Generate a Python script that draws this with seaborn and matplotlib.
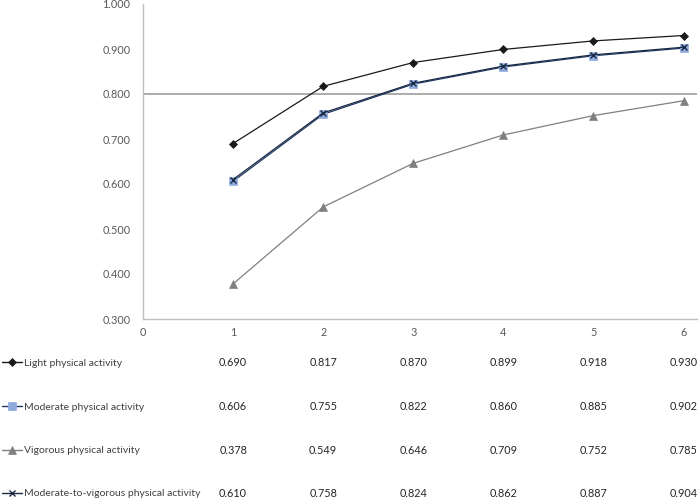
import matplotlib
matplotlib.use("Agg")
import matplotlib.pyplot as plt
import numpy as np
import pandas as pd
import seaborn as sns
from matplotlib.lines import Line2D

# data
x_vals = [1, 2, 3, 4, 5, 6]
series_names = ["Light physical activity", "Moderate physical activity",
                "Vigorous physical activity", "Moderate-to-vigorous physical activity"]
light = [0.690, 0.817, 0.870, 0.899, 0.918, 0.930]
moderate = [0.606, 0.755, 0.822, 0.860, 0.885, 0.902]
vigorous = [0.378, 0.549, 0.646, 0.709, 0.752, 0.785]
mvpa = [0.610, 0.758, 0.824, 0.862, 0.887, 0.904]
threshold = 0.800
y_ticks = [0.3, 0.4, 0.5, 0.6, 0.7, 0.8, 0.9, 1.0]
x_ticks = [0, 1, 2, 3, 4, 5, 6]

sns.set_style("white")
plt.rcParams["font.family"] = ["Lato", "DejaVu Sans"]

# styles per series: line colour, marker, marker face, marker edge, size
styles = {
    "Light physical activity": dict(color="#1a1a1a", marker="D", mfc="#1a1a1a", mec="#1a1a1a", ms=4.5, mew=0.5),
    "Moderate physical activity": dict(color="#1f3864", marker="s", mfc="#8faadc", mec="#8faadc", ms=6, mew=0.5),
    "Vigorous physical activity": dict(color="#808080", marker="^", mfc="#808080", mec="#808080", ms=6, mew=0.5),
    "Moderate-to-vigorous physical activity": dict(color="#1a2a45", marker="x", mfc="#1a2a45", mec="#1a2a45", ms=5, mew=1.0),
}
values = dict(zip(series_names, [light, moderate, vigorous, mvpa]))

fig = plt.figure(figsize=(6.99, 5.0), dpi=100)
ax = fig.add_axes([0.2046, 0.362, 0.7926, 0.630])

ax.axhline(threshold, color="#a6a6a6", lw=1.3, zorder=1)

for name in series_names:
    st = styles[name]
    df = pd.DataFrame({"x": x_vals, "y": values[name]})
    sns.lineplot(data=df, x="x", y="y", ax=ax, color=st["color"], lw=0.9,
                 marker=st["marker"], markersize=st["ms"], markerfacecolor=st["mfc"],
                 markeredgecolor=st["mec"], markeredgewidth=st["mew"], zorder=3)

ax.set_xlim(0, 6.15)
ax.set_ylim(0.3, 1.0)
ax.set_xticks(x_ticks)
ax.set_yticks(y_ticks)
ax.set_yticklabels([f"{v:.3f}" for v in y_ticks])
ax.set_xlabel("")
ax.set_ylabel("")
ax.tick_params(axis="both", length=0, labelsize=7.8, labelcolor="#595959")
ax.tick_params(axis="y", pad=9)
ax.tick_params(axis="x", pad=6)
for s in ["top", "right"]:
    ax.spines[s].set_visible(False)
for s in ["left", "bottom"]:
    ax.spines[s].set_color("#bfbfbf")
    ax.spines[s].set_linewidth(1.0)

# data table under the chart
row_y = [0.274, 0.186, 0.099, 0.013]
trans = matplotlib.transforms.blended_transform_factory(ax.transData, fig.transFigure)
for name, yy in zip(series_names, row_y):
    st = styles[name]
    fig.add_artist(Line2D([0.003, 0.032], [yy + 0.002, yy + 0.002], transform=fig.transFigure,
                          color=st["color"], lw=1.0))
    fig.add_artist(Line2D([0.0175], [yy + 0.002], transform=fig.transFigure,
                          marker=st["marker"], ms=st["ms"], mfc=st["mfc"], mec=st["mec"],
                          mew=st["mew"], lw=0))
    fig.text(0.034, yy, name, fontsize=7.5, color="#404040", va="center", ha="left")
    for xv, v in zip(x_vals, values[name]):
        fig.text(xv, yy, f"{v:.3f}", transform=trans, fontsize=7.8, color="#262626",
                 va="center", ha="center")

fig.savefig("out.png", dpi=100)
